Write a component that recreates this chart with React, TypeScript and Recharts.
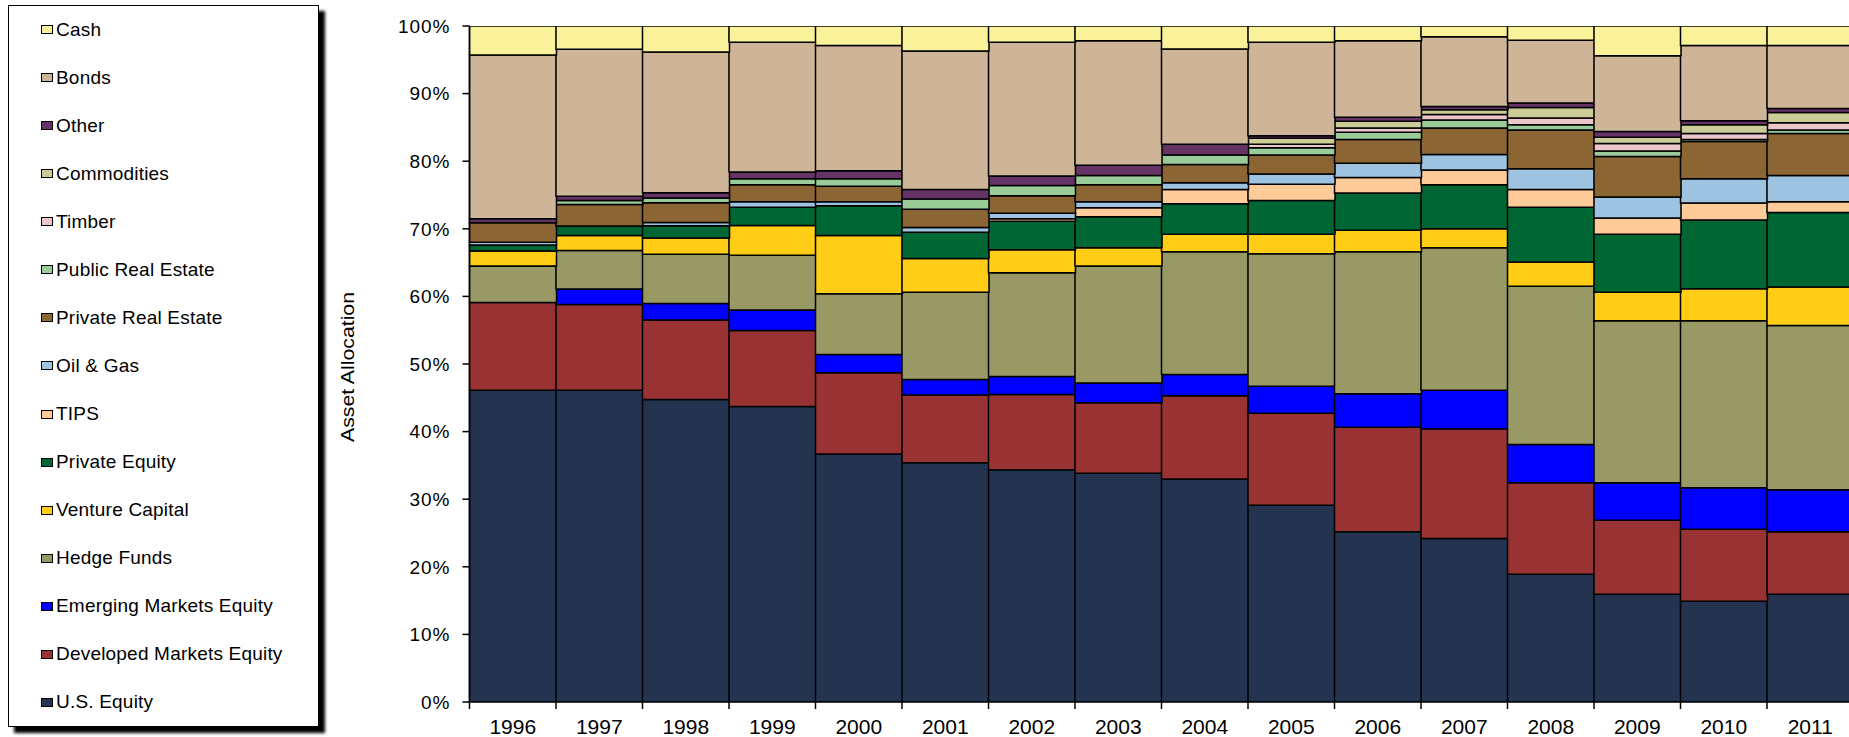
import React from 'react';
import { BarChart, Bar, XAxis, YAxis, Legend, Label } from 'recharts';

const FONT = 'Arial, "Liberation Sans", sans-serif';

const YEARS = ['1996', '1997', '1998', '1999', '2000', '2001', '2002', '2003', '2004', '2005', '2006', '2007', '2008', '2009', '2010', '2011'];

// allocations in % of portfolio
const US_EQUITY = [46.1, 46.1, 44.75, 43.7, 36.7, 35.4, 34.35, 33.85, 33.0, 29.1, 25.2, 24.2, 18.9, 15.95, 14.9, 15.95];
const DEVELOPED_EQUITY = [13.0, 12.7, 11.75, 11.25, 12.0, 10.0, 11.15, 10.4, 12.3, 13.6, 15.45, 16.2, 13.55, 10.95, 10.65, 9.25];
const EMERGING_EQUITY = [0, 2.3, 2.45, 3.05, 2.7, 2.3, 2.65, 2.95, 3.15, 4.0, 4.95, 5.7, 5.65, 5.55, 6.15, 6.2];
const HEDGE_FUNDS = [5.4, 5.7, 7.3, 8.1, 9.0, 12.9, 15.35, 17.3, 18.15, 19.6, 21.0, 21.1, 23.4, 23.95, 24.7, 24.3];
const VENTURE_CAPITAL = [2.2, 2.2, 2.4, 4.4, 8.6, 5.0, 3.4, 2.7, 2.6, 2.9, 3.2, 2.8, 3.6, 4.2, 4.75, 5.7];
const PRIVATE_EQUITY = [0.9, 1.4, 1.8, 2.7, 4.4, 3.9, 4.2, 4.6, 4.5, 5.0, 5.5, 6.5, 8.1, 8.6, 10.15, 11.0];
const TIPS = [0, 0, 0, 0, 0, 0, 0.4, 1.3, 2.1, 2.4, 2.3, 2.2, 2.6, 2.4, 2.5, 1.6];
const OIL_GAS = [0.4, 0, 0.5, 0.8, 0.6, 0.7, 0.8, 0.9, 1.0, 1.5, 2.1, 2.3, 3.1, 3.1, 3.6, 3.9];
const PRIVATE_RE = [2.9, 3.2, 2.9, 2.5, 2.3, 2.7, 2.6, 2.5, 2.7, 2.8, 3.5, 3.9, 5.7, 6.0, 5.5, 6.2];
const PUBLIC_RE = [0, 0.6, 0.7, 0.9, 1.1, 1.5, 1.5, 1.4, 1.4, 1.1, 1.1, 1.2, 0.8, 0.8, 0.3, 0.5];
const TIMBER = [0, 0, 0, 0, 0, 0, 0, 0, 0, 0.5, 0.6, 0.8, 1.0, 1.1, 0.9, 1.1];
const COMMODITIES = [0, 0, 0, 0, 0, 0, 0, 0, 0, 0.9, 1.0, 0.7, 1.55, 0.95, 1.3, 1.5];
const OTHER = [0.6, 0.6, 0.8, 1.0, 1.2, 1.4, 1.4, 1.5, 1.6, 0.35, 0.6, 0.5, 0.65, 0.85, 0.6, 0.6];
const BONDS = [24.2, 21.75, 20.8, 19.2, 18.5, 20.5, 19.8, 18.4, 14.1, 13.85, 11.3, 10.3, 9.3, 11.2, 11.1, 9.3];
const CASH = [4.3, 3.45, 3.85, 2.4, 2.9, 3.7, 2.4, 2.2, 3.4, 2.4, 2.2, 1.6, 2.1, 4.4, 2.9, 2.9];

const Y_TICKS = [0, 10, 20, 30, 40, 50, 60, 70, 80, 90, 100];

// bottom of the stack first
const SERIES = [
  { key: 'usEquity', name: 'U.S. Equity', color: '#233350', values: US_EQUITY },
  { key: 'developed', name: 'Developed Markets Equity', color: '#993333', values: DEVELOPED_EQUITY },
  { key: 'emerging', name: 'Emerging Markets Equity', color: '#0000FF', values: EMERGING_EQUITY },
  { key: 'hedge', name: 'Hedge Funds', color: '#999966', values: HEDGE_FUNDS },
  { key: 'venture', name: 'Venture Capital', color: '#FFCC16', values: VENTURE_CAPITAL },
  { key: 'privateEquity', name: 'Private Equity', color: '#006633', values: PRIVATE_EQUITY },
  { key: 'tips', name: 'TIPS', color: '#FFCC99', values: TIPS },
  { key: 'oilGas', name: 'Oil & Gas', color: '#9DC3E0', values: OIL_GAS },
  { key: 'privateRE', name: 'Private Real Estate', color: '#8B6634', values: PRIVATE_RE },
  { key: 'publicRE', name: 'Public Real Estate', color: '#99CC99', values: PUBLIC_RE },
  { key: 'timber', name: 'Timber', color: '#EBC7CA', values: TIMBER },
  { key: 'commodities', name: 'Commodities', color: '#CCCC99', values: COMMODITIES },
  { key: 'other', name: 'Other', color: '#663366', values: OTHER },
  { key: 'bonds', name: 'Bonds', color: '#CEB597', values: BONDS },
  { key: 'cash', name: 'Cash', color: '#FAF29B', values: CASH },
];

const data = YEARS.map((year, i) => {
  const row: Record<string, string | number> = { year };
  SERIES.forEach(s => {
    row[s.key] = s.values[i];
  });
  return row;
});

function YearTick(props: any) {
  const { x, y, payload } = props;
  const half = payload.offset ?? 0;
  return (
    <g>
      <line x1={x - half} x2={x - half} y1={y - 17} y2={y - 10} stroke="#000" strokeWidth={1.5} />
      <text x={x} y={y} dy="0.71em" textAnchor="middle" fontSize={21} fill="#000" fontFamily={FONT}>
        {payload.value}
      </text>
    </g>
  );
}

function AxisTitle() {
  // centred on the plot's left side, like the original
  const cx = 347;
  const cy = 367;
  return (
    <text
      x={cx}
      y={cy}
      transform={`rotate(-90, ${cx}, ${cy})`}
      textAnchor="middle"
      dominantBaseline="central"
      fontSize={19}
      textLength={150}
      lengthAdjust="spacingAndGlyphs"
      fill="#000"
      fontFamily={FONT}
    >
      Asset Allocation
    </text>
  );
}

function LegendBox() {
  const items = [...SERIES].reverse();
  return (
    <div
      style={{
        width: 311,
        height: 722,
        boxSizing: 'border-box',
        border: '1.5px solid #000',
        background: '#fff',
        boxShadow: '6px 6px 3px #000',
        position: 'relative',
        fontFamily: FONT,
      }}
    >
      {items.map((s, i) => (
        <div
          key={s.key}
          style={{
            position: 'absolute',
            left: 32,
            top: 23.5 - 15 + i * 48.07,
            height: 30,
            display: 'flex',
            alignItems: 'center',
            whiteSpace: 'nowrap',
          }}
        >
          <span
            style={{
              display: 'inline-block',
              width: 10,
              height: 7,
              background: s.color,
              border: '1px solid #000',
              marginRight: 3,
            }}
          />
          <span style={{ fontSize: 19, letterSpacing: 0.2, color: '#000' }}>{s.name}</span>
        </div>
      ))}
    </div>
  );
}

export default function App() {
  return (
    <div style={{ position: 'fixed', left: 0, top: 0, width: 1849, height: 737, overflow: 'hidden', background: '#fff' }}>
      <BarChart
        width={1860}
        height={737}
        data={data}
        barCategoryGap={0}
        barGap={0}
        margin={{ top: 26, right: 6.5, bottom: 5, left: 389.5 }}
        style={{ fontFamily: FONT }}
      >
        <XAxis
          dataKey="year"
          height={30}
          tickLine={false}
          tickSize={7}
          tickMargin={10}
          axisLine={{ stroke: '#000', strokeWidth: 1.5 }}
          tick={<YearTick />}
          interval={0}
        />
        <YAxis
          width={80}
          domain={[0, 100]}
          ticks={Y_TICKS}
          allowDataOverflow
          tickFormatter={(v: number) => `${v}%`}
          tickSize={7}
          tickMargin={12}
          tick={{ fill: '#000', fontSize: 19, letterSpacing: 1 }}
          tickLine={{ stroke: '#000', strokeWidth: 1.5 }}
          axisLine={{ stroke: '#000', strokeWidth: 1.5 }}
        >
          <Label content={() => <AxisTitle />} />
        </YAxis>
        <Legend
          layout="vertical"
          align="center"
          verticalAlign="middle"
          wrapperStyle={{ left: 8, top: 5, width: 311, height: 722 }}
          content={() => <LegendBox />}
        />
        {SERIES.map(s => (
          <Bar
            key={s.key}
            dataKey={s.key}
            name={s.name}
            stackId="alloc"
            fill={s.color}
            stroke="#000"
            strokeWidth={1.5}
            isAnimationActive={false}
          />
        ))}
      </BarChart>
    </div>
  );
}
